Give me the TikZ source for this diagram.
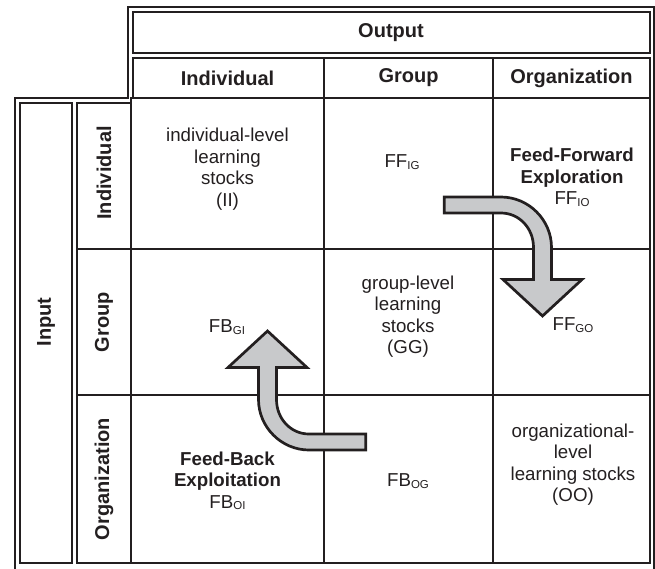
\documentclass[tikz,border=0pt]{standalone}
\usepackage{fontspec}
\setmainfont{Liberation Sans}
\usepackage{xcolor}
\usepackage{tikz}
\definecolor{ink}{RGB}{35,31,32}
\definecolor{flowgray}{RGB}{200,201,203}
\def\flowsub#1{\raisebox{-1.5pt}{\fontsize{11.5}{11.5}\selectfont #1}}
\def\bentArrow{(39.3,-126.5) -- (96,-126.5) .. controls (123.6,-126.5) and (146.5,-103.6) .. (146.5,-76) -- (146.5,-44) -- (177,-44) -- (137.5,-7.5) -- (98,-44) -- (128.5,-44) -- (128.5,-76) .. controls (128.5,-95.3) and (114.2,-110.5) .. (96,-110.5) -- (39.3,-110.5) -- cycle}
\tikzstyle{gridline}=[draw=ink,line width=2.5pt]
\tikzstyle{header}=[text=ink,font=\bfseries\fontsize{20}{24}\selectfont]
\tikzstyle{celltext}=[text=ink,align=center,font=\fontsize{18.7}{21.5}\selectfont]
\tikzstyle{flow}=[draw=ink,fill=flowgray,line width=2.7pt,line join=miter]

\begin{document}
\begin{tikzpicture}[x=1pt,y=-1pt]
    \useasboundingbox (0,0) rectangle (655,568);
    \clip (0,0) rectangle (655,568);
    % frames and grid
    \draw[gridline] (128,7) -- (654.5,7) -- (654.5,571) -- (15,571) -- (15,98) -- (128,98) -- cycle;
    \draw[gridline] (133,12) rectangle (650,53);
    \draw[gridline] (133,58) rectangle (650,98);
    \draw[gridline] (20,103) rectangle (72,563);
    \draw[gridline] (77,103) rectangle (131,563);
    \draw[gridline] (131,98) rectangle (650,563);
    \draw[gridline] (324,58) -- (324,563) (493,58) -- (493,563);
    \draw[gridline] (77,249) -- (650,249) (77,395) -- (650,395);
    % headers
    \node[header] (output) at (391,33) {Output};
    \node[header] (colInd) at (227.5,78) {Individual};
    \node[header] (colGrp) at (408.5,78) {Group};
    \node[header] (colOrg) at (571.5,78) {Organization};
    \node[header,rotate=90] (input) at (46,322) {Input};
    \node[header,rotate=90] (rowInd) at (104,173) {Individual};
    \node[header,rotate=90] (rowGrp) at (104,322) {Group};
    \node[header,rotate=90] (rowOrg) at (104,479) {Organization};
    % cells
    \node[celltext] (ii) at (227.5,169) {individual-level\\learning\\stocks\\(II)};
    \node[celltext] (ffig) at (402,162) {FF\flowsub{IG}};
    \node[celltext] (ffio) at (572,177.5) {\textbf{Feed-Forward}\\\textbf{Exploration}\\FF\flowsub{IO}};
    \node[celltext] (fbgi) at (227,327) {FB\flowsub{GI}};
    \node[celltext] (gg) at (408,316.5) {group-level\\learning\\stocks\\(GG)};
    \node[celltext] (ffgo) at (573,325) {FF\flowsub{GO}};
    \node[celltext] (fboi) at (227.5,481) {\textbf{Feed-Back}\\\textbf{Exploitation}\\FB\flowsub{OI}};
    \node[celltext] (fbog) at (408,481) {FB\flowsub{OG}};
    \node[celltext] (oo) at (573,464.5) {organizational-\\level\\learning stocks\\(OO)};
    % flows
    \draw[flow,shift={(405,323.5)}] \bentArrow;
    \draw[flow,shift={(405,323.5)},rotate=180] \bentArrow;
\end{tikzpicture}
\end{document}
